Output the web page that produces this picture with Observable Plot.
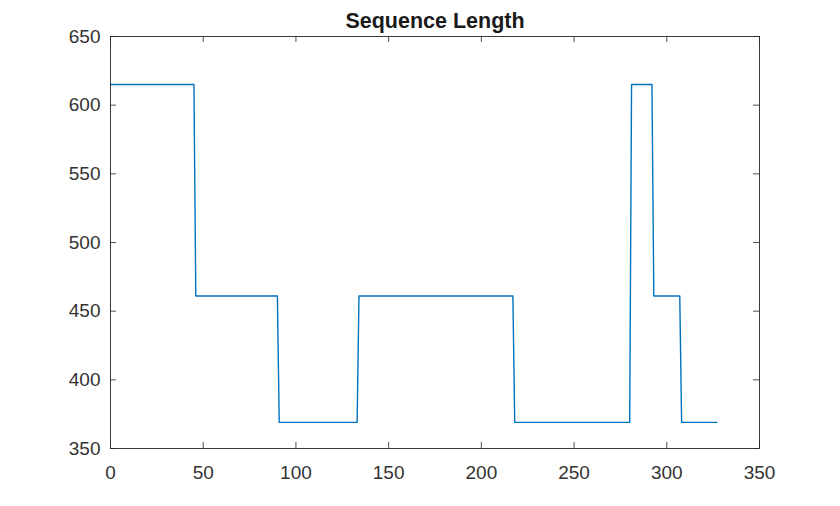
<!DOCTYPE html>
<html><head><meta charset="utf-8">
<script src="https://cdn.jsdelivr.net/npm/d3@7"></script>
<script src="https://cdn.jsdelivr.net/npm/@observablehq/plot@0.6"></script>
<style>html,body{margin:0;padding:0;background:#fff}</style>
</head><body><div id="chart"></div>
<script>
const titleText = "Sequence Length";
// vertices where the sequence length changes (index, length)
const xs = [0, 45, 46, 90, 91, 133, 134, 217, 218, 280, 281, 292, 293, 307, 308, 327];
const ys = [615, 615, 461, 461, 369, 369, 461, 461, 369, 369, 615, 615, 461, 461, 369, 369];
const xTicks = [0, 50, 100, 150, 200, 250, 300, 350];
const yTicks = [350, 400, 450, 500, 550, 600, 650];

const data = xs.map((x, i) => ({x, y: ys[i]}));
const W = 840, H = 506, mt = 36, mb = 58, ml = 110, mr = 81;
const ph = H - mt - mb, pw = W - ml - mr;
const axisColor = "#262626";
const tl = 6;

const chart = Plot.plot({
  width: W, height: H,
  marginTop: mt, marginBottom: mb, marginLeft: ml, marginRight: mr,
  style: {fontFamily: "'Liberation Sans', Arial, sans-serif", fontSize: "19px", color: axisColor, background: "#fff"},
  x: {domain: [0, 350], ticks: xTicks, label: null},
  y: {domain: [350, 650], ticks: yTicks, label: null},
  marks: [
    Plot.line(data, {x: "x", y: "y", stroke: "#0072BD", strokeWidth: 1.4}),
    Plot.ruleX(xTicks, {stroke: axisColor, strokeWidth: 0.8, insetTop: ph - tl}),
    Plot.ruleX(xTicks, {stroke: axisColor, strokeWidth: 0.8, insetBottom: ph - tl}),
    Plot.ruleY(yTicks, {stroke: axisColor, strokeWidth: 0.8, insetRight: pw - tl}),
    Plot.ruleY(yTicks, {stroke: axisColor, strokeWidth: 0.8, insetLeft: pw - tl}),
    Plot.frame({stroke: axisColor, strokeWidth: 0.9}),
    Plot.axisX(xTicks, {anchor: "bottom", tickSize: 0, tickPadding: 17, fontSize: 19, fill: "#333", label: null}),
    Plot.axisY(yTicks, {anchor: "left", tickSize: 0, tickPadding: 10, fontSize: 19, fill: "#333", label: null}),
    Plot.text([titleText], {frameAnchor: "top", lineAnchor: "middle", dy: -15, text: d => d, fontSize: 21.5, fontWeight: "bold", fill: "#1a1a1a"})
  ]
});
document.getElementById("chart").append(chart);
</script>
</body></html>
